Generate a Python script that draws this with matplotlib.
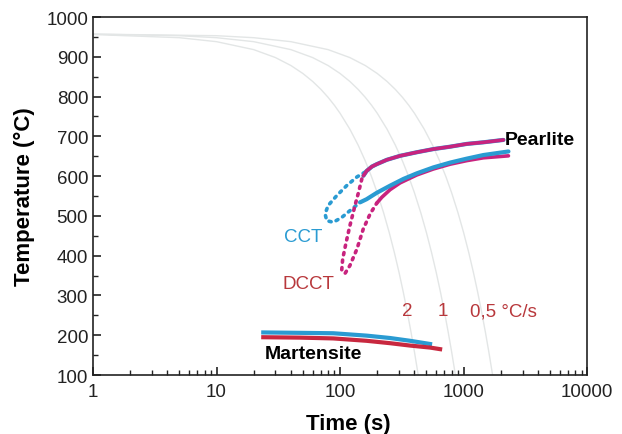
import matplotlib
matplotlib.use("Agg")
import matplotlib.pyplot as plt
from matplotlib.ticker import MultipleLocator, LogLocator, NullFormatter, FixedLocator

plt.rcParams['font.family'] = ['Liberation Sans', 'DejaVu Sans']

# cooling curves (2, 1, 0.5 °C/s)
cool2_t = [1, 5, 10, 20, 30, 40, 50, 60, 70, 80, 90, 100, 120, 140, 160, 180, 200, 225, 250, 275, 300, 325, 350, 375, 400, 429]
cool2_T = [956, 948, 938, 918, 898, 878, 858, 838, 818, 798, 778, 758, 718, 678, 638, 598, 558, 508, 458, 408, 358, 308, 258, 208, 158, 100]
cool1_t = [1, 5, 10, 20, 40, 60, 80, 100, 120, 140, 160, 180, 200, 240, 280, 320, 360, 400, 450, 500, 550, 600, 650, 700, 750, 800, 858]
cool1_T = [957, 953, 948, 938, 918, 898, 878, 858, 838, 818, 798, 778, 758, 718, 678, 638, 598, 558, 508, 458, 408, 358, 308, 258, 208, 158, 100]
cool05_t = [1, 10, 20, 40, 80, 120, 160, 200, 240, 280, 320, 360, 400, 480, 560, 640, 720, 800, 900, 1000, 1100, 1200, 1300, 1400, 1500, 1600, 1716]
cool05_T = [957, 953, 948, 938, 918, 898, 878, 858, 838, 818, 798, 778, 758, 718, 678, 638, 598, 558, 508, 458, 408, 358, 308, 258, 208, 158, 100]

# CCT pearlite
cct_dot_t = [159, 137, 113, 94, 80, 75.6, 78, 88, 103, 120, 145]
cct_dot_T = [610, 598, 576, 551, 526, 505, 488, 484, 496, 513, 534]
cct_up_t = [154.5, 164, 181, 198, 239, 306, 418, 570, 778, 1062, 1445, 2100]
cct_up_T = [601, 613, 624, 630, 641, 651, 660, 668, 674, 681, 685, 691]
cct_lo_t = [145, 164, 198, 254, 326, 418, 570, 778, 1062, 1445, 2306]
cct_lo_T = [534, 542, 558, 576, 593, 607, 622, 634, 644, 653, 662]

# DCCT pearlite
dcct_dot_t = [150, 141, 132, 120, 112, 105, 103, 110, 120, 137, 154, 175, 198]
dcct_dot_T = [593, 559, 526, 475, 434, 392, 362, 356, 375, 417, 467, 505, 532]
dcct_up_t = [154.5, 164, 181, 198, 239, 306, 418, 570, 778, 1062, 1445, 2100]
dcct_up_T = [601, 613, 624, 630, 641, 651, 660, 668, 674, 681, 685, 691]
dcct_lo_t = [198, 218, 254, 306, 418, 570, 778, 1062, 1445, 2306]
dcct_lo_T = [532, 547, 566, 583, 603, 618, 630, 639, 646, 651]

# martensite
mart_cct_t = [23.9, 47.5, 88, 164, 254, 369, 535]
mart_cct_T = [207, 206, 205, 199, 193, 186, 178]
mart_dcct_t = [23.9, 47.5, 88, 164, 254, 369, 535, 645]
mart_dcct_T = [195, 194, 192, 186, 180, 174, 169, 165]

blue = '#2a9bd2'
mag = '#c8237e'
red = '#c8283f'
txtred = '#b8383c'
gray = '#e3e6e6'

fig = plt.figure(figsize=(6.22, 4.35), dpi=100)
ax = fig.add_axes([0.1495, 0.1356, 0.7945, 0.823])

for t, T in [(cool2_t, cool2_T), (cool1_t, cool1_T), (cool05_t, cool05_T)]:
    ax.plot(t, T, color=gray, lw=1.0, zorder=1)

dots = (0, (0.6, 1.5))
ax.plot(cct_dot_t, cct_dot_T, color=blue, lw=2.6, ls=dots, dash_capstyle='round', zorder=3)
ax.plot(dcct_dot_t, dcct_dot_T, color=mag, lw=2.6, ls=dots, dash_capstyle='round', zorder=3)
ax.plot(cct_up_t, cct_up_T, color=blue, lw=3.0, zorder=3, solid_capstyle='round')
ax.plot(cct_lo_t, cct_lo_T, color=blue, lw=3.0, zorder=4, solid_capstyle='round')
ax.plot(dcct_up_t, dcct_up_T, color=mag, lw=2.6, zorder=4, solid_capstyle='round')
ax.plot(dcct_lo_t, dcct_lo_T, color=mag, lw=2.6, zorder=3, solid_capstyle='round')
ax.plot(mart_cct_t, mart_cct_T, color=blue, lw=3.0, zorder=3)
ax.plot(mart_dcct_t, mart_dcct_T, color=red, lw=3.0, zorder=4)

ax.text(2168, 691, 'Pearlite', fontsize=14, fontweight='bold', va='center', ha='left')
ax.text(24.6, 153, 'Martensite', fontsize=14, fontweight='bold', va='center', ha='left')
ax.text(35, 449, 'CCT', fontsize=13.5, color=blue, va='center', ha='left')
ax.text(34, 329, 'DCCT', fontsize=13.5, color=txtred, va='center', ha='left')
ax.text(349, 261, '2', fontsize=13.5, color=txtred, va='center', ha='center')
ax.text(683, 261, '1', fontsize=13.5, color=txtred, va='center', ha='center')
ax.text(1120, 261, '0,5 °C/s', fontsize=13.5, color=txtred, va='center', ha='left')

ax.set_xscale('log')
ax.set_xlim(1, 10000)
ax.set_ylim(100, 1000)
ax.xaxis.set_major_locator(FixedLocator([1, 10, 100, 1000, 10000]))
ax.set_xticklabels(['1', '10', '100', '1000', '10000'])
ax.xaxis.set_minor_locator(LogLocator(base=10, subs=range(2, 10)))
ax.xaxis.set_minor_formatter(NullFormatter())
ax.yaxis.set_major_locator(MultipleLocator(100))
ax.yaxis.set_minor_locator(MultipleLocator(50))
ax.tick_params(which='both', direction='in', top=False, right=False, labelsize=13.5,
               color='#222222', labelcolor='#222222')
ax.tick_params(which='major', length=6, width=1.2)
ax.tick_params(which='minor', length=3.5, width=1.0)
ax.tick_params(axis='x', pad=6)
for s in ax.spines.values():
    s.set_linewidth(1.2)
    s.set_color('#222222')

ax.set_xlabel('Time (s)', fontsize=16, fontweight='bold', labelpad=9)
ax.xaxis.label.set_x(0.516)
ax.set_ylabel('Temperature (°C)', fontsize=16, fontweight='bold', labelpad=8)

fig.savefig('out.png', dpi=100)
